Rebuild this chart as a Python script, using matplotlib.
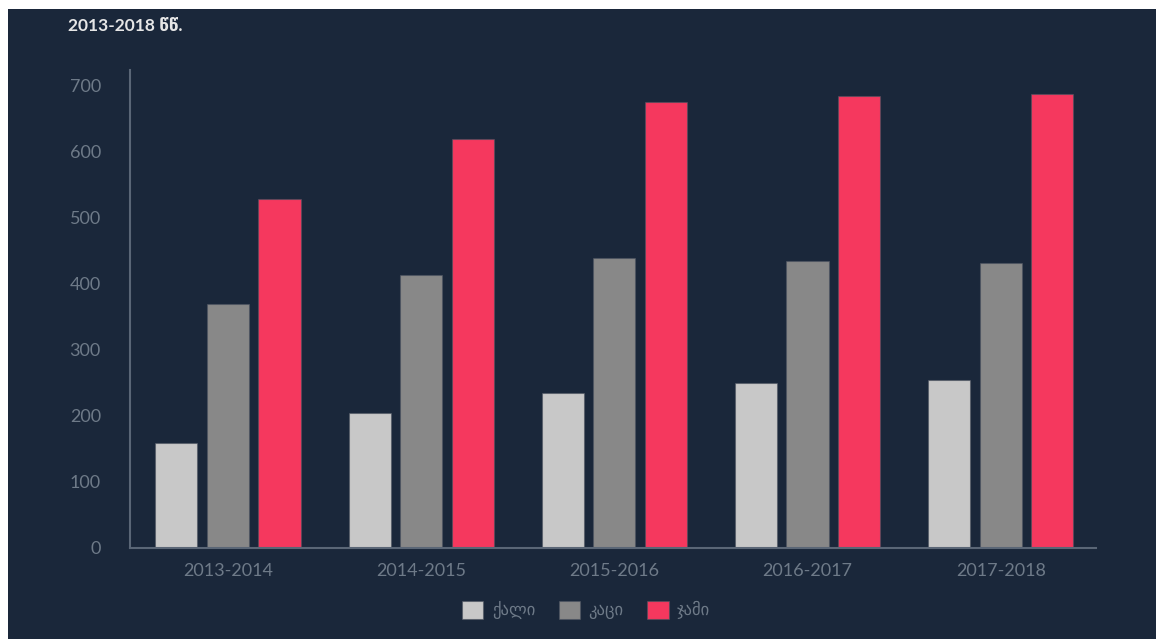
import matplotlib
matplotlib.use("Agg")
import matplotlib.pyplot as plt
import matplotlib.patches as mpatches
import numpy as np

title = "2013-2018 წწ."
categories = ["2013-2014", "2014-2015", "2015-2016", "2016-2017", "2017-2018"]
series_names = ["ქალი", "კაცი", "ჯამი"]
women = [159, 205, 235, 250, 255]
men = [370, 414, 440, 434, 432]
total = [529, 620, 675, 684, 688]
yticks = [0, 100, 200, 300, 400, 500, 600, 700]

colors = ["#c8c8c8", "#888888", "#f5385e"]
bg = "#1a273a"
txt = "#6e7a88"
spine_c = "#5a6676"

W, H = 1156, 639
fig = plt.figure(figsize=(W / 100, H / 100), dpi=100)
fig.patch.set_facecolor("white")
fig.patches.append(mpatches.Rectangle((8 / W, 0), 1 - 8 / W, 1 - 9 / H,
                                      transform=fig.transFigure, facecolor=bg,
                                      edgecolor="none", zorder=-10))

ax = fig.add_axes([130 / W, 1 - 548 / H, (1096 - 130) / W, (548 - 70) / H])
ax.set_facecolor("none")
ax.set_zorder(1)

x = np.arange(len(categories))
w = 0.218
off = 0.267
for i, (vals, c, name) in enumerate(zip([women, men, total], colors, series_names)):
    ax.bar(x + (i - 1) * off, vals, width=w, color=c, label=name,
           edgecolor=(0.3, 0.33, 0.38, 0.6), linewidth=0.8, zorder=2)

ax.set_xlim(-0.507, 4.493)
ax.set_ylim(0, 724)
ax.set_yticks(yticks)
ax.set_xticks(x)
ax.set_xticklabels(categories)
ax.tick_params(axis="both", length=0, colors=txt, labelsize=13)
ax.tick_params(axis="y", pad=21)
ax.tick_params(axis="x", pad=11)
for lab in ax.get_xticklabels() + ax.get_yticklabels():
    lab.set_fontfamily(["Lato", "DejaVu Sans"])
for s in ["top", "right"]:
    ax.spines[s].set_visible(False)
for s in ["left", "bottom"]:
    ax.spines[s].set_color(spine_c)
    ax.spines[s].set_linewidth(1.5)

fig.text(68 / W, 1 - 26 / H, title, color="#e6e6e6", fontsize=12.5,
         fontweight="bold", family=["Lato", "DejaVu Sans"], va="center", ha="left")

leg = fig.legend(loc="center", bbox_to_anchor=(586 / W, 1 - 610 / H), ncol=3,
                 frameon=False, handlelength=1.3, handleheight=1.3,
                 handletextpad=0.5, columnspacing=1.4,
                 prop={"family": ["Lato", "DejaVu Sans"], "size": 12})
for t in leg.get_texts():
    t.set_color(txt)

fig.savefig("out.png", dpi=100, facecolor=fig.get_facecolor())
